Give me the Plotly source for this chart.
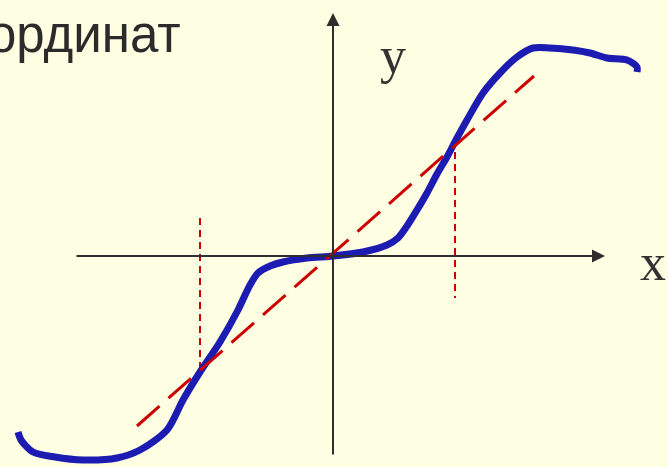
import plotly.graph_objects as go

# Curve (math units; origin at axes crossing)
curve_x = [-6.30, -6.24, -6.00, -5.56, -5.00, -4.32, -3.86, -3.32, -3.00, -2.66, -2.26, -1.90, -1.66, -1.50, -1.26, -1.00, -0.52, 0.00,
           0.60, 1.08, 1.30, 1.48, 1.68, 1.88, 2.08, 2.28, 2.48, 2.68, 3.00, 3.34, 3.68, 4.00, 4.34, 4.80, 5.14, 5.48, 5.88, 6.08, 6.08]
curve_y = [-3.52, -3.68, -3.92, -4.02, -4.08, -4.04, -3.88, -3.48, -2.88, -2.32, -1.72, -1.08, -0.58, -0.34, -0.20, -0.12, -0.04, 0.00,
           0.08, 0.22, 0.36, 0.60, 0.92, 1.26, 1.64, 1.98, 2.36, 2.72, 3.26, 3.66, 3.98, 4.16, 4.16, 4.12, 4.06, 3.96, 3.92, 3.78, 3.68]

# Red dashed secant line
line_x = [-3.92, 4.02]
line_y = [-3.40, 3.60]

# Vertical dotted markers
vline_left_x = [-2.66, -2.66]
vline_left_y = [0.76, -2.28]
vline_right_x = [2.44, 2.44]
vline_right_y = [2.32, -0.84]

# Coordinate axes extents
xaxis_from, xaxis_to = -5.16, 5.44
yaxis_from, yaxis_to = -4.0, 4.86

title_text = "ординат"
x_label = "x"
y_label = "y"

BG = "#FEFEE3"
AXC = "#2e2e2e"
RED = "#CC0000"
BLUE = "#1C1CB2"

fig = go.Figure()

fig.add_trace(go.Scatter(x=vline_left_x, y=vline_left_y, mode="lines",
                         line=dict(color=RED, width=2, dash="7px,5px"), hoverinfo="skip"))
fig.add_trace(go.Scatter(x=vline_right_x, y=vline_right_y, mode="lines",
                         line=dict(color=RED, width=2, dash="7px,5px"), hoverinfo="skip"))

annotations = [
    dict(x=xaxis_to, y=0, ax=xaxis_from, ay=0, xref="x", yref="y", axref="x", ayref="y",
         showarrow=True, arrowhead=2, arrowsize=1.3, arrowwidth=2, arrowcolor=AXC, standoff=0, text=""),
    dict(x=0, y=yaxis_to, ax=0, ay=yaxis_from, xref="x", yref="y", axref="x", ayref="y",
         showarrow=True, arrowhead=2, arrowsize=1.3, arrowwidth=2, arrowcolor=AXC, standoff=0, text=""),
    dict(x=1.2, y=4.02, xref="x", yref="y", text=y_label, showarrow=False,
         font=dict(family="Liberation Serif", size=52, color="#333333"), xanchor="center", yanchor="middle"),
    dict(x=6.40, y=-0.12, xref="x", yref="y", text=x_label, showarrow=False,
         font=dict(family="Liberation Serif", size=52, color="#333333"), xanchor="center", yanchor="middle"),
    dict(x=-3.0, y=4.44, xref="x", yref="y", text=title_text, showarrow=False,
         font=dict(family="Liberation Sans", size=51, color="#2b2b2b"), xanchor="right", yanchor="middle"),
]

fig.add_trace(go.Scatter(x=curve_x, y=curve_y, mode="lines",
                         line=dict(color=BLUE, width=7, shape="spline", smoothing=0.8), hoverinfo="skip"))
fig.add_trace(go.Scatter(x=line_x, y=line_y, mode="lines",
                         line=dict(color=RED, width=3, dash="30px,12px"), hoverinfo="skip"))

fig.update_layout(
    width=668, height=467,
    margin=dict(l=0, r=0, t=0, b=0),
    paper_bgcolor=BG, plot_bgcolor=BG,
    showlegend=False,
    annotations=annotations,
    xaxis=dict(range=[-6.66, 6.70], visible=False, fixedrange=True),
    yaxis=dict(range=[-4.22, 5.12], visible=False, fixedrange=True),
)

fig.write_html("out.html", config={"displayModeBar": False},
               post_script="document.body.style.margin='0';document.body.style.padding='0';"
                           "document.body.style.overflow='hidden';document.body.style.background='" + BG + "';")
